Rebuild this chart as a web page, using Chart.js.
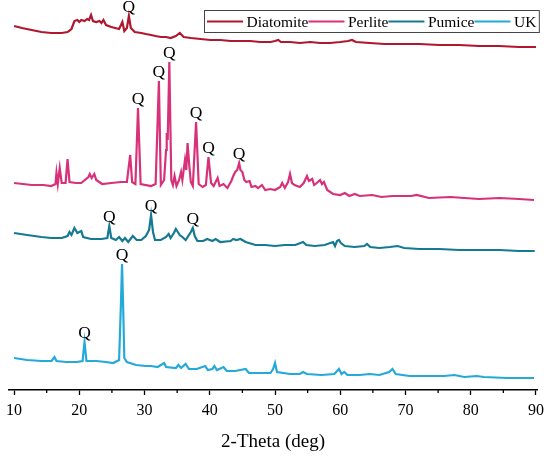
<!DOCTYPE html>
<html>
<head>
<meta charset="utf-8">
<script src="https://cdn.jsdelivr.net/npm/chart.js@4.4.1/dist/chart.umd.min.js"></script>
<style>
    html, body { margin: 0; padding: 0; background: #fff; }
</style>
</head>
<body>
<canvas id="xrdChart" width="550" height="457"></canvas>
<script>
// 2-Theta positions (deg) and stacked intensities (a.u.) per sample
const diatomiteTheta = [10.0, 11.2, 12.7, 14.2, 15.7, 17.3, 18.2, 18.8, 19.25, 19.7, 20.0, 20.3, 20.8, 21.2, 21.5, 21.8, 22.1, 22.6, 23.1, 23.4, 23.7, 24.1, 24.9, 25.5, 26.1, 26.6, 26.9, 27.3, 27.6, 27.9, 28.5, 29.5, 30.2, 31.0, 31.7, 32.5, 33.3, 34.0, 34.8, 35.4, 36.0, 37.1, 38.6, 40.1, 41.6, 43.2, 44.7, 46.2, 47.7, 49.3, 50.0, 50.5, 50.9, 52.3, 53.8, 55.4, 56.9, 58.4, 60.0, 61.2, 61.8, 62.4, 64.5, 66.8, 69.1, 72.1, 75.2, 78.2, 81.3, 84.3, 87.4, 90.0];
const diatomiteIntensity = [364, 362, 360, 358, 357, 357, 358, 361, 369, 370, 368, 370, 369, 371, 370, 375, 369, 368, 369, 367, 370, 365, 363, 362, 361, 368, 359, 362, 374, 362, 358, 357, 356, 355, 354, 353, 353, 352, 354, 357, 353, 352, 351, 350, 350, 349, 349, 349, 348, 348, 349, 350, 348, 348, 347, 348, 347, 347, 348, 349, 350, 348, 347, 346, 346, 346, 345, 345, 344, 344, 343, 343];

const perliteTheta = [10.0, 12.7, 14.5, 15.7, 16.35, 16.5, 16.7, 17.0, 17.3, 17.9, 18.2, 18.5, 19.5, 20.3, 21.4, 21.6, 21.9, 22.3, 22.6, 23.5, 24.9, 26.4, 27.3, 27.8, 28.1, 28.6, 29.0, 29.4, 31.0, 31.7, 32.2, 32.5, 33.0, 33.3, 33.4, 33.55, 33.8, 34.1, 34.35, 34.6, 34.9, 35.3, 35.6, 35.8, 36.2, 36.4, 36.6, 36.85, 37.1, 37.4, 37.9, 38.3, 38.9, 39.4, 39.8, 40.2, 40.6, 41.2, 41.5, 42.1, 42.7, 43.3, 43.6, 43.9, 44.2, 44.5, 44.7, 45.0, 45.3, 45.6, 46.1, 46.4, 47.0, 47.4, 48.0, 48.5, 49.3, 50.0, 50.8, 51.1, 51.5, 52.0, 52.3, 52.6, 53.0, 53.8, 54.4, 54.9, 55.2, 55.7, 56.0, 56.4, 56.9, 57.2, 57.5, 58.0, 58.9, 60.0, 60.7, 61.4, 62.2, 63.0, 64.9, 66.3, 68.0, 70.9, 71.7, 73.6, 76.9, 79.0, 81.3, 84.4, 87.4, 89.7];
const perliteIntensity = [207, 205, 205, 204, 206, 217, 206, 222, 207, 207, 231, 208, 207, 207, 213, 216, 212, 216, 210, 206, 207, 208, 208, 235, 208, 206, 282, 206, 204, 206, 309, 205, 210, 240, 257, 250, 328, 210, 205, 214, 204, 210, 218, 210, 230, 220, 247, 225, 208, 204, 268, 206, 203, 205, 233, 207, 204, 212, 204, 206, 202, 209, 214, 218, 220, 227, 220, 218, 210, 208, 209, 203, 204, 202, 205, 200, 201, 200, 203, 207, 202, 208, 216, 207, 205, 203, 207, 214, 209, 211, 205, 207, 210, 206, 208, 200, 196, 195, 197, 194, 196, 194, 195, 193, 194, 194, 195, 192, 193, 192, 191, 192, 191, 190];

const pumiceTheta = [10.0, 12.0, 14.2, 15.7, 17.3, 18.2, 18.5, 18.8, 19.25, 19.7, 20.3, 20.6, 21.8, 23.4, 24.3, 24.6, 24.9, 25.6, 26.1, 26.6, 27.0, 27.5, 28.2, 28.8, 29.5, 30.2, 30.7, 31.0, 31.3, 31.6, 32.5, 33.3, 33.7, 34.0, 34.5, 34.8, 35.1, 35.4, 35.8, 36.3, 37.1, 37.4, 37.7, 38.1, 39.0, 39.6, 40.4, 40.9, 41.6, 43.2, 43.6, 44.1, 44.7, 45.5, 47.0, 48.5, 50.0, 51.5, 53.1, 54.3, 54.8, 56.1, 57.6, 58.9, 59.2, 59.5, 59.8, 60.1, 60.7, 62.2, 63.7, 64.1, 64.6, 66.0, 67.6, 68.8, 69.8, 72.1, 75.2, 78.2, 81.3, 84.4, 87.4, 89.8];
const pumiceIntensity = [157, 155, 153, 152, 152, 154, 158, 155, 162, 157, 159, 153, 151, 151, 152, 164, 152, 150, 153, 149, 152, 148, 154, 150, 150, 154, 160, 175, 158, 150, 150, 153, 156, 152, 157, 161, 158, 155, 153, 150, 158, 162, 154, 149, 149, 151, 149, 151, 148, 149, 151, 150, 151, 148, 145, 145, 144, 145, 145, 148, 145, 144, 145, 148, 144, 149, 150, 147, 144, 143, 144, 146, 143, 142, 143, 144, 142, 141, 141, 140, 140, 140, 139, 139];

const ukTheta = [10.0, 12.0, 14.2, 15.75, 16.2, 16.5, 18.0, 19.6, 20.5, 20.8, 21.1, 22.6, 24.1, 25.2, 26.1, 26.4, 26.55, 26.7, 26.9, 27.3, 28.7, 30.2, 31.0, 32.0, 33.0, 33.3, 34.8, 35.2, 35.6, 36.3, 36.8, 38.0, 39.3, 39.7, 40.4, 40.7, 41.1, 42.1, 42.6, 43.9, 45.5, 46.0, 47.7, 49.3, 49.7, 50.0, 50.3, 52.3, 53.8, 54.3, 54.9, 57.1, 59.1, 59.8, 60.2, 60.6, 61.1, 63.0, 64.5, 66.0, 67.5, 68.0, 68.5, 70.6, 73.6, 75.9, 77.5, 79.0, 80.9, 82.0, 85.6, 89.7];
const ukIntensity = [32, 30, 29, 29, 33, 29, 28, 28, 29, 48, 29, 29, 28, 27, 30, 90, 126, 90, 32, 28, 25, 24, 24, 23, 27, 23, 22, 25, 22, 26, 21, 21, 24, 20, 21, 24, 20, 23, 19, 19, 21, 17, 17, 17, 21, 27, 18, 16, 16, 18, 16, 15, 16, 21, 16, 18, 15, 15, 16, 15, 18, 21, 16, 14, 14, 14, 15, 13, 14, 13, 12, 12];

// Quartz (Q) reflections marked on each pattern
const diatomiteQ = [27.6];
const perliteQ = [29.0, 32.2, 33.8, 37.9, 39.8, 44.5];
const pumiceQ = [24.6, 31.0, 37.4];
const ukQ = [20.8, 26.55];

const sampleNames = ['Diatomite', 'Perlite', 'Pumice', 'UK'];
const sampleColors = ['#B0172F', '#D7317A', '#157A91', '#24A9D8'];
const xTickValues = [10, 20, 30, 40, 50, 60, 70, 80, 90];
const xMinorValues = [15, 25, 35, 45, 55, 65, 75, 85];

const serif = '"Liberation Serif", "Times New Roman", serif';

function toPoints(xs, ys) {
    return xs.map((x, i) => ({ x: x, y: ys[i] }));
}

// Draw "Q" above each marked peak
const quartzLabels = {
    id: 'quartzLabels',
    afterDatasetsDraw(chart) {
        const ctx = chart.ctx;
        const xs = chart.scales.x, ys = chart.scales.y;
        ctx.save();
        ctx.font = '17.5px ' + serif;
        ctx.fillStyle = '#000';
        ctx.textAlign = 'center';
        ctx.textBaseline = 'alphabetic';
        chart.data.datasets.forEach(ds => {
            (ds.qPeaks || []).forEach(t => {
                let best = ds.data[0];
                ds.data.forEach(p => {
                    if (Math.abs(p.x - t) < Math.abs(best.x - t)) best = p;
                });
                ctx.fillText('Q', xs.getPixelForValue(best.x), ys.getPixelForValue(best.y) - 4);
            });
        });
        ctx.restore();
    }
};

// Short minor ticks between labelled ones
const minorTicks = {
    id: 'minorTicks',
    afterDraw(chart) {
        const ctx = chart.ctx;
        const xs = chart.scales.x;
        ctx.save();
        ctx.strokeStyle = '#000';
        ctx.lineWidth = 1.3;
        xMinorValues.forEach(v => {
            const px = xs.getPixelForValue(v);
            ctx.beginPath();
            ctx.moveTo(px, xs.top);
            ctx.lineTo(px, xs.top + 3);
            ctx.stroke();
        });
        ctx.restore();
    }
};

// Boxed horizontal legend in the top right corner
const boxedLegend = {
    id: 'boxedLegend',
    afterDraw(chart) {
        const ctx = chart.ctx;
        const lineLen = 36, gap = 3.5, yMid = 21.5;
        let x = 207;
        ctx.save();
        ctx.font = '15.5px ' + serif;
        ctx.textBaseline = 'middle';
        ctx.textAlign = 'left';
        chart.data.datasets.forEach(ds => {
            ctx.strokeStyle = ds.borderColor;
            ctx.lineWidth = 2;
            ctx.beginPath();
            ctx.moveTo(x, yMid);
            ctx.lineTo(x + lineLen, yMid);
            ctx.stroke();
            x += lineLen + gap;
            ctx.fillStyle = '#000';
            ctx.fillText(ds.label, x, yMid + 1);
            x += ctx.measureText(ds.label).width;
        });
        ctx.strokeStyle = '#444';
        ctx.lineWidth = 1;
        ctx.strokeRect(204.5, 10.5, x + 3 - 204.5, 22);
        ctx.restore();
    }
};

const thetaSets = [diatomiteTheta, perliteTheta, pumiceTheta, ukTheta];
const intensitySets = [diatomiteIntensity, perliteIntensity, pumiceIntensity, ukIntensity];
const qSets = [diatomiteQ, perliteQ, pumiceQ, ukQ];

const datasets = sampleNames.map((name, i) => ({
    label: name,
    data: toPoints(thetaSets[i], intensitySets[i]),
    qPeaks: qSets[i],
    borderColor: sampleColors[i],
    backgroundColor: sampleColors[i],
    borderWidth: 2.2,
    pointRadius: 0,
    tension: 0,
    fill: false
}));

new Chart(document.getElementById('xrdChart').getContext('2d'), {
    type: 'line',
    data: { datasets: datasets },
    options: {
        responsive: false,
        animation: false,
        layout: { padding: { left: 7, right: 11.4, top: 0, bottom: 0 } },
        plugins: {
            legend: { display: false },
            tooltip: { enabled: false }
        },
        scales: {
            x: {
                type: 'linear',
                min: 9.2,
                max: 90.2,
                afterBuildTicks: scale => {
                    scale.ticks = xTickValues.map(v => ({ value: v }));
                },
                afterFit: scale => { scale.height = 67; },
                grid: {
                    drawOnChartArea: false,
                    drawTicks: true,
                    tickLength: 5,
                    tickColor: '#000',
                    tickWidth: 1.3
                },
                border: { display: true, color: '#000', width: 1.5 },
                ticks: {
                    color: '#000',
                    padding: 6,
                    maxRotation: 0,
                    font: { family: serif, size: 16 }
                },
                title: {
                    display: true,
                    text: '2-Theta (deg)',
                    color: '#000',
                    padding: { top: 0, bottom: 4 },
                    font: { family: serif, size: 19 }
                }
            },
            y: {
                display: false,
                min: 0,
                max: 390
            }
        }
    },
    plugins: [quartzLabels, minorTicks, boxedLegend]
});
</script>
</body>
</html>
